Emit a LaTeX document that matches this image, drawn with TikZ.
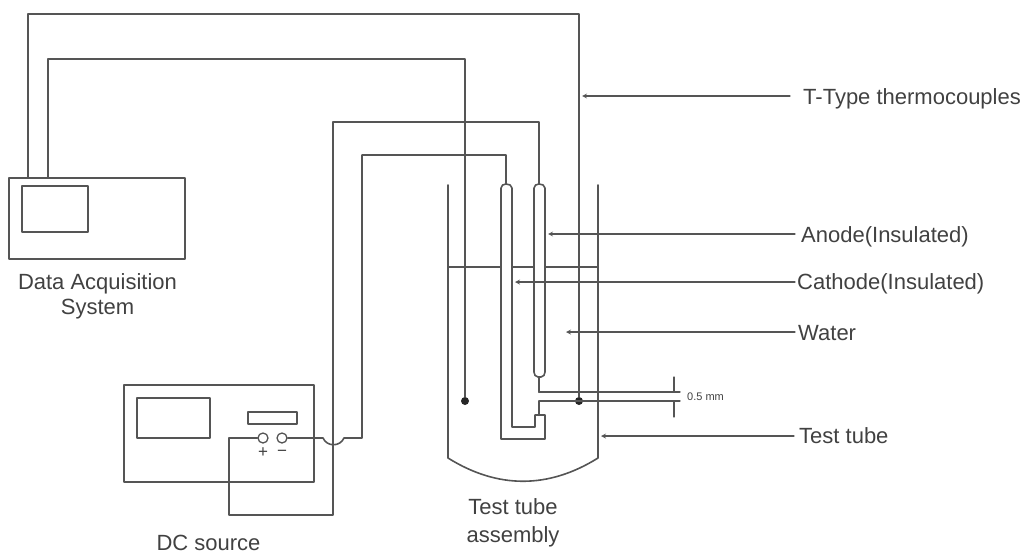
\documentclass[tikz,border=0pt]{standalone}
\usepackage{fontspec}
\setmainfont{Liberation Sans}
\definecolor{wiregray}{RGB}{85,85,85}
\definecolor{labgray}{RGB}{65,65,65}
\tikzset{
    lab/.style={
        font=\fontsize{22}{26}\selectfont, text=labgray, inner sep=0pt,
        text height=15.8pt, text depth=0pt
    }
}

\begin{document}
\begin{tikzpicture}[x=1pt,y=-1pt, line cap=round, line join=round]

\tikzset{
  main/.style={draw=wiregray, line width=1.6pt},
  thin wire/.style={draw=wiregray, line width=1.3pt},
  leader/.style={draw=wiregray, line width=1.2pt},
  panel/.style={rectangle, draw=wiregray, line width=1.6pt, inner sep=0pt},
  term/.style={circle, draw=wiregray, line width=1.3pt, minimum size=10pt, inner sep=0pt},
  junction/.style={circle, fill=black!85, minimum size=8pt, inner sep=0pt},
  rlab/.style={lab, anchor=west},
}

\useasboundingbox (0,0) rectangle (1027,554);

% instruments
\node[panel, minimum width=176pt, minimum height=81pt] (daq) at (97,218.5) {};
\node[panel, minimum width=66pt, minimum height=46pt] (daqscreen) at (55,209) {};
\node[panel, minimum width=190pt, minimum height=97pt] (dc) at (219,433.5) {};
\node[panel, minimum width=73pt, minimum height=40pt] (dcscreen) at (173.5,418) {};
\node[panel, minimum width=49pt, minimum height=12pt] (dcslot) at (272.5,418) {};
\node[term] (tplus) at (263,438) {};
\node[term] (tminus) at (282,438) {};

\coordinate (D1) at (28,178);
\coordinate (D2) at (48,178);
\coordinate (H1) at (323,438);
\coordinate (H2) at (344,438);

% tube sides
\coordinate (TL) at (448,185);
\coordinate (TR) at (598,185);
\coordinate (BL) at (448,458);
\coordinate (BR) at (598,458);

% electrodes
\coordinate (C1) at (501,188);
\coordinate (C2) at (512,188);
\coordinate (A1) at (534,188);
\coordinate (A2) at (545,188);
\coordinate (AT) at (539,184);
\coordinate (CT) at (506,184);
\coordinate (AB) at (539,377);
\coordinate (AG) at (539,392);
\coordinate (CG) at (539,401);
\coordinate (CB) at (539,415);

% junctions
\node[junction] (tc1) at (465,401) {};
\node[junction] (tc2) at (579,401) {};

% test tube
\draw[main] (TL) -- (BL) to[out=-32,in=-148] (BR) -- (TR);

% water level
\draw[thin wire] (448,267) -- (501,267);
\draw[thin wire] (512,267) -- (534,267);
\draw[thin wire] (545,267) -- (598,267);

% anode
\draw[main] (A1) to[out=90,in=180] (AT) to[out=0,in=90] (A2)
  -- (545,372) to[out=-90,in=0] (541,377) -- (538,377) to[out=180,in=-90] (534,372) -- cycle;
\draw[main, line width=2pt] (AB) -- (AG);

% cathode
\draw[main] (C1) to[out=90,in=180] (CT) to[out=0,in=90] (C2)
  -- (512,427) -- (535,427) -- (535,415) -- (545,415) -- (545,439) -- (501,439) -- cycle;
\draw[main, line width=2pt] (CG) -- (CB);

% gap lines
\draw[thin wire] (AG) -- (680,392);
\draw[thin wire] (CG) -- (680,401);
\draw[thin wire] (674,377) -- (674,392);
\draw[thin wire] (674,401) -- (674,417);

% thermocouples
\draw[main] (D1) |- (579,14) -- (tc2);
\draw[main] (D2) |- (465,59) -- (tc1);

% supply wires
\draw[main] (AT) |- (333,122) -- (333,515) -| (229,438) -- (tplus);
\draw[main] (tminus) -- (H1) .. controls (327,447) and (340,447) .. (H2) -- (362,438) |- (506,155) -- (CT);

% leaders
\draw[leader, stealth-] (582,96) -- (790,96);
\draw[leader, stealth-] (548,234) -- (795,234);
\draw[leader, stealth-] (515,282) -- (795,282);
\draw[leader, stealth-] (566,332) -- (795,332);
\draw[leader, stealth-] (601,436) -- (794,436);

% labels
\node[rlab] (ltc) at (803,96.5) {T-Type thermocouples};
\node[rlab] (lan) at (801,235) {Anode(Insulated)};
\node[rlab] (lca) at (797,281.5) {Cathode(Insulated)};
\node[rlab] (lwa) at (798,333) {Water};
\node[rlab] (ltt) at (799,436) {Test tube};
\node[anchor=west, inner sep=0pt, text=labgray, font=\fontsize{11}{13}\selectfont] (lgap) at (687,397) {0.5 mm};
\node[lab] (ld1) at (97.5,282) {Data Acquisition};
\node[lab] (ld2) at (97.5,307) {System};
\node[lab] (ldc) at (208.5,543) {DC source};
\node[lab] (la1) at (513,506.5) {Test tube};
\node[lab] (la2) at (513,535) {assembly};
\node[inner sep=0pt, text=labgray, font=\fontsize{17}{20}\selectfont] (lplus) at (263,453) {+};
\node[inner sep=0pt, text=labgray, font=\fontsize{17}{20}\selectfont] (lminus) at (282,453) {\textminus};

\end{tikzpicture}
\end{document}
